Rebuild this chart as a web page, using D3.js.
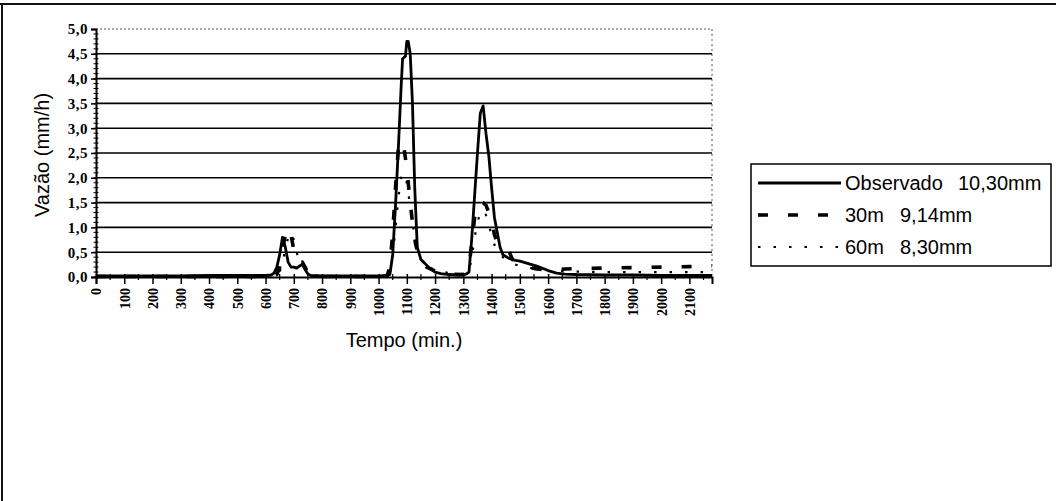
<!DOCTYPE html>
<html>
<head>
<meta charset="utf-8">
<script src="https://cdn.jsdelivr.net/npm/d3@7"></script>
<style>
  html, body { margin: 0; padding: 0; background: #fff; }
  svg { display: block; }
</style>
</head>
<body>
<svg id="chart" width="1056" height="501"></svg>
<script>
// Hidrograma: vazão observada e simulada (passos de 30 e 60 min)
const tempoObs = [0,100,200,300,400,500,600,620,630,640,650,660,670,680,690,700,710,720,730,740,750,760,800,900,1000,1030,1040,1050,1060,1070,1080,1085,1095,1100,1105,1112,1120,1128,1137,1150,1163,1180,1200,1220,1250,1280,1300,1310,1320,1330,1340,1350,1360,1370,1380,1390,1400,1410,1420,1430,1440,1460,1480,1500,1530,1560,1600,1630,1660,1700,1800,1900,2000,2100,2180];
const vazaoObs = [0.02,0.02,0.02,0.02,0.03,0.03,0.03,0.04,0.08,0.2,0.45,0.8,0.6,0.3,0.2,0.2,0.18,0.22,0.25,0.15,0.06,0.03,0.02,0.02,0.02,0.03,0.05,0.45,1.45,2.6,3.85,4.4,4.45,4.75,4.75,4.5,3.5,1.8,0.6,0.35,0.28,0.18,0.1,0.07,0.05,0.04,0.04,0.06,0.1,0.8,1.65,2.5,3.3,3.45,2.9,2.45,1.8,1.2,0.9,0.6,0.45,0.38,0.34,0.32,0.27,0.22,0.13,0.08,0.06,0.05,0.04,0.04,0.03,0.03,0.03];

const tempo30 = [0,100,200,300,400,500,600,630,640,650,660,670,680,690,700,710,720,730,740,750,760,800,900,1000,1030,1040,1050,1060,1070,1080,1090,1100,1110,1120,1130,1140,1150,1170,1200,1250,1300,1310,1320,1330,1340,1350,1360,1370,1380,1390,1400,1410,1420,1430,1440,1450,1460,1470,1480,1490,1500,1530,1560,1600,1630,1660,1700,1800,1900,2000,2100,2180];
const vazao30 = [0.01,0.01,0.01,0.01,0.01,0.01,0.01,0.02,0.05,0.2,0.55,0.85,1.0,0.85,0.55,0.35,0.28,0.3,0.2,0.08,0.03,0.01,0.01,0.01,0.02,0.2,0.9,1.8,2.6,2.75,2.6,2.2,1.6,1.1,0.7,0.45,0.3,0.2,0.12,0.06,0.05,0.06,0.2,0.7,1.2,1.5,1.52,1.5,1.45,1.3,1.2,0.85,0.7,0.62,0.6,0.6,0.55,0.4,0.3,0.28,0.25,0.2,0.16,0.14,0.15,0.16,0.17,0.18,0.19,0.2,0.21,0.22];

const tempo60 = [0,100,200,300,400,500,600,640,650,660,670,680,690,700,710,720,730,740,750,770,800,900,1000,1030,1040,1050,1060,1070,1080,1090,1100,1110,1120,1130,1140,1150,1170,1200,1250,1300,1320,1330,1340,1350,1360,1370,1380,1390,1400,1410,1420,1440,1460,1480,1500,1550,1600,1650,1700,1800,1900,2000,2100,2180];
const vazao60 = [0.01,0.01,0.01,0.01,0.01,0.01,0.01,0.03,0.1,0.3,0.55,0.8,0.9,0.75,0.5,0.32,0.25,0.18,0.1,0.04,0.01,0.01,0.01,0.02,0.08,0.4,1.0,1.6,2.0,2.1,1.9,1.5,1.1,0.75,0.5,0.35,0.22,0.14,0.08,0.06,0.1,0.4,0.8,1.1,1.3,1.35,1.25,1.05,0.85,0.65,0.5,0.4,0.32,0.26,0.22,0.17,0.14,0.12,0.11,0.1,0.1,0.1,0.1,0.1];

const rotulosSerie = ["Observado", "30m", "60m"];
const volumesSerie = ["10,30mm", "9,14mm", "8,30mm"];
const yTicks = [0, 0.5, 1, 1.5, 2, 2.5, 3, 3.5, 4, 4.5, 5];
const xTicks = d3.range(0, 2101, 100);

const series = [
  { nome: rotulosSerie[0], vol: volumesSerie[0], t: tempoObs, v: vazaoObs, width: 2.8, dash: null, volX: 958 },
  { nome: rotulosSerie[1], vol: volumesSerie[1], t: tempo30, v: vazao30, width: 3.6, dash: "10,20", volX: 900 },
  { nome: rotulosSerie[2], vol: volumesSerie[2], t: tempo60, v: vazao60, width: 2.2, dash: "2.5,13", volX: 900 }
];

const svg = d3.select("#chart");
const plot = { left: 96, right: 712, top: 29, bottom: 277 };

const x = d3.scaleLinear().domain([0, 2180]).range([plot.left, plot.right]);
const y = d3.scaleLinear().domain([0, 5]).range([plot.bottom, plot.top]);

// page frame (top and left edges)
svg.append("line").attr("x1", 0).attr("x2", 1056).attr("y1", 4).attr("y2", 4)
  .attr("stroke", "#111").attr("stroke-width", 2);
svg.append("line").attr("x1", 2).attr("x2", 2).attr("y1", 4).attr("y2", 501)
  .attr("stroke", "#111").attr("stroke-width", 2);

// plot-area border: dotted top and right
svg.append("line").attr("x1", plot.left).attr("x2", plot.right).attr("y1", plot.top).attr("y2", plot.top)
  .attr("stroke", "#555").attr("stroke-width", 1).attr("stroke-dasharray", "2,2");
svg.append("line").attr("x1", plot.right).attr("x2", plot.right).attr("y1", plot.top).attr("y2", plot.bottom)
  .attr("stroke", "#555").attr("stroke-width", 1).attr("stroke-dasharray", "2,3");

// horizontal gridlines
svg.append("g").selectAll("line")
  .data(yTicks.filter(d => d > 0 && d < 5))
  .join("line")
  .attr("x1", plot.left).attr("x2", plot.right)
  .attr("y1", d => y(d)).attr("y2", d => y(d))
  .attr("stroke", "#000").attr("stroke-width", 1.6);

// y axis
const yAxis = svg.append("g").attr("transform", `translate(${plot.left},0)`)
  .call(d3.axisLeft(y).tickValues(yTicks).tickSize(5).tickFormat(d => d3.format(".1f")(d).replace(".", ",")));
yAxis.select(".domain").attr("stroke", "#000").attr("stroke-width", 2);
yAxis.selectAll(".tick line").attr("stroke", "#000").attr("stroke-width", 1.5);
yAxis.selectAll(".tick text")
  .attr("x", -8)
  .attr("font-family", "'Liberation Serif', 'Times New Roman', serif")
  .attr("font-size", 15).attr("font-weight", "bold").attr("fill", "#000")
  .attr("letter-spacing", 0.5);
// minor ticks on the y axis
svg.append("g").selectAll("line")
  .data(d3.range(0, 50).map(i => i / 10))
  .join("line")
  .attr("x1", plot.left - 2.5).attr("x2", plot.left + 2.5)
  .attr("y1", d => y(d)).attr("y2", d => y(d))
  .attr("stroke", "#000").attr("stroke-width", 1);

// x axis
const xAxis = svg.append("g").attr("transform", `translate(0,${plot.bottom})`)
  .call(d3.axisBottom(x).tickValues(xTicks).tickSize(7).tickFormat(d3.format("d")));
xAxis.select(".domain").attr("stroke", "#000").attr("stroke-width", 2);
xAxis.selectAll(".tick line").attr("stroke", "#000").attr("stroke-width", 1.5).attr("y1", -3);
xAxis.selectAll(".tick text")
  .attr("transform", "rotate(-90)")
  .attr("x", -11).attr("y", 0).attr("dy", "0.35em")
  .attr("text-anchor", "end")
  .attr("font-family", "'Liberation Serif', 'Times New Roman', serif")
  .attr("font-size", 14).attr("font-weight", "bold").attr("fill", "#000");
// minor ticks on the x axis
svg.append("g").selectAll("line")
  .data(d3.range(50, 2180, 100))
  .join("line")
  .attr("x1", d => x(d)).attr("x2", d => x(d))
  .attr("y1", plot.bottom - 3).attr("y2", plot.bottom + 3)
  .attr("stroke", "#000").attr("stroke-width", 1.2);

// axis titles
svg.append("text")
  .attr("transform", `translate(49,155) rotate(-90)`)
  .attr("text-anchor", "middle")
  .attr("font-family", "'Liberation Sans', Arial, sans-serif")
  .attr("font-size", 20).attr("fill", "#000")
  .text("Vazão (mm/h)");
svg.append("text")
  .attr("x", 404).attr("y", 347)
  .attr("text-anchor", "middle")
  .attr("font-family", "'Liberation Sans', Arial, sans-serif")
  .attr("font-size", 20).attr("fill", "#000")
  .text("Tempo (min.)");

// series lines
const line = d3.line().x(d => x(d[0])).y(d => y(d[1]));
svg.append("g").selectAll("path")
  .data(series)
  .join("path")
  .attr("d", s => line(s.t.map((t, i) => [t, s.v[i]])))
  .attr("fill", "none")
  .attr("stroke", "#000")
  .attr("stroke-width", s => s.width)
  .attr("stroke-dasharray", s => s.dash)
  .attr("stroke-linejoin", "round");

// legend
const legend = svg.append("g");
legend.append("rect")
  .attr("x", 751).attr("y", 164).attr("width", 300).attr("height", 102)
  .attr("fill", "#fff").attr("stroke", "#000").attr("stroke-width", 1.5);
const rows = legend.selectAll("g.row")
  .data(series)
  .join("g").attr("class", "row")
  .attr("transform", (d, i) => `translate(0,${183 + i * 32})`);
rows.append("line")
  .attr("x1", 758).attr("x2", 841).attr("y1", 0).attr("y2", 0)
  .attr("stroke", "#000")
  .attr("stroke-width", d => d.width)
  .attr("stroke-dasharray", d => d.dash);
rows.append("text")
  .attr("x", 845).attr("y", 7)
  .attr("font-family", "'Liberation Sans', Arial, sans-serif")
  .attr("font-size", 20).attr("fill", "#000")
  .text(d => d.nome);
rows.append("text")
  .attr("x", d => d.volX).attr("y", 7)
  .attr("font-family", "'Liberation Sans', Arial, sans-serif")
  .attr("font-size", 20).attr("fill", "#000")
  .text(d => d.vol);
</script>
</body>
</html>
